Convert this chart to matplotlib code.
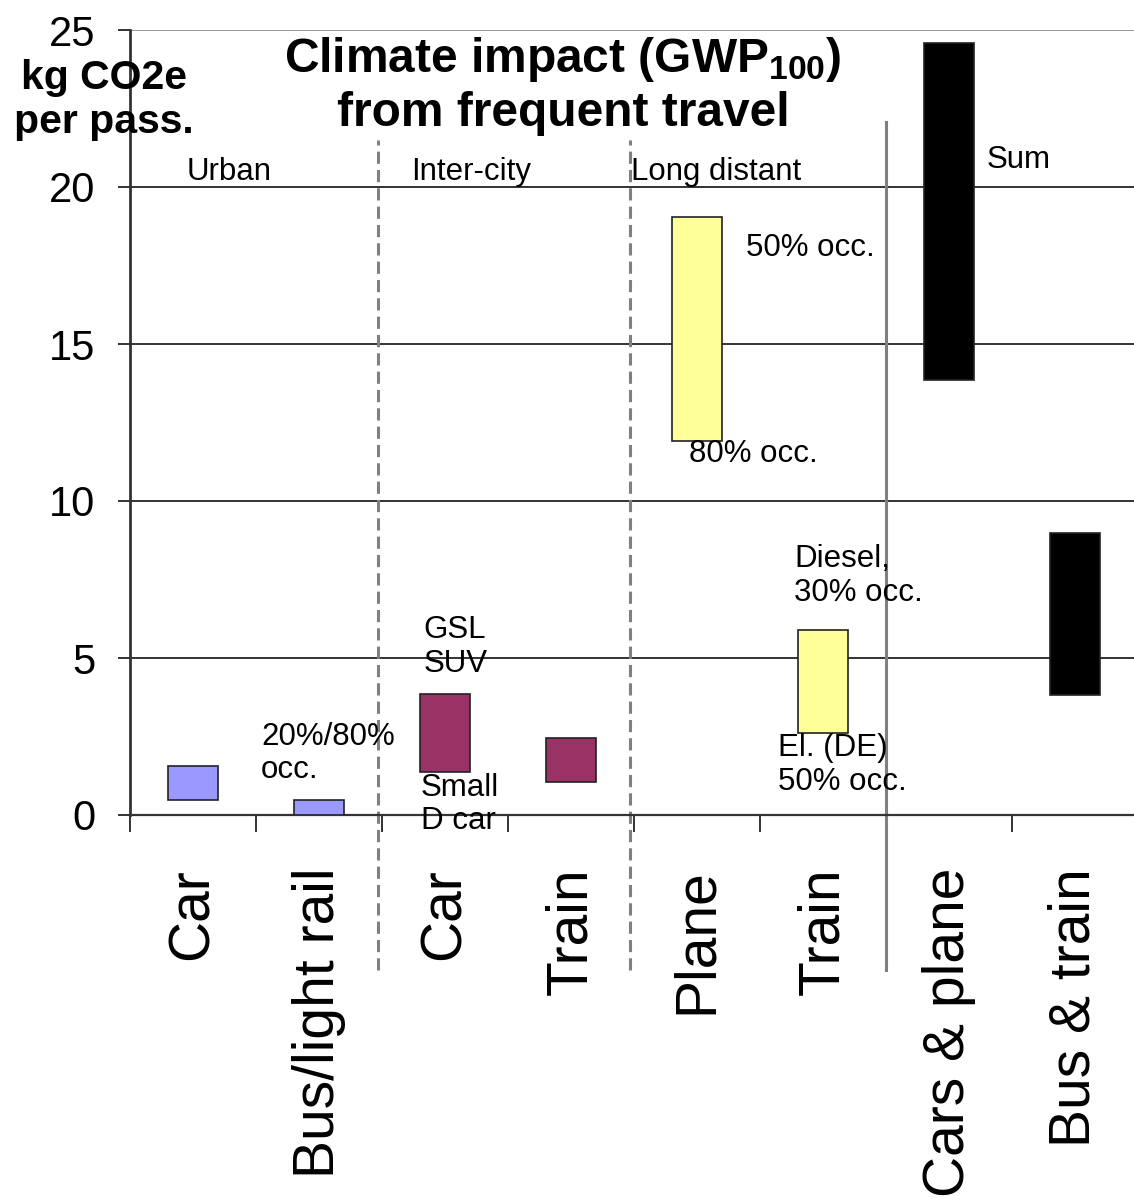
import matplotlib.pyplot as plt
import numpy as np

plt.rcParams['font.family'] = ['Liberation Sans', 'DejaVu Sans']
plt.rcParams['mathtext.fontset'] = 'custom'
plt.rcParams['mathtext.rm'] = 'Liberation Sans'
plt.rcParams['mathtext.bf'] = 'Liberation Sans:bold'

# data: low / high kg CO2e per passenger
categories = ['Car', 'Bus/light rail', 'Car', 'Train', 'Plane', 'Train',
              'Cars & plane', 'Bus & train']
low = [0.48, 0.0, 1.37, 1.05, 11.9, 2.61, 13.85, 3.82]
high = [1.56, 0.48, 3.85, 2.45, 19.04, 5.89, 24.6, 8.98]
colors = ['#9999FF', '#9999FF', '#993366', '#993366',
          '#FFFF99', '#FFFF99', '#000000', '#000000']

fig = plt.figure(figsize=(11.34, 12.01), dpi=100)
ax = fig.add_axes([130/1134, 1 - 815/1201, 1008/1134, 785/1201])

x = np.arange(len(categories))
heights = np.array(high) - np.array(low)
ax.bar(x, heights, bottom=low, width=0.4, color=colors, edgecolor='#222222',
       linewidth=1.2, zorder=3)

ax.set_xlim(-0.5, 7.5)
ax.set_ylim(0, 25)

# y axis
ax.set_yticks([0, 5, 10, 15, 20, 25])
ax.tick_params(axis='y', labelsize=30, length=9, width=1.4, pad=16, color='#333333')
for y in [5, 10, 15, 20]:
    ax.axhline(y, color='#333333', lw=1.4, zorder=1)
ax.axhline(25, color='#999999', lw=1.4, zorder=1)

# x axis: labels at centres, tick marks at boundaries
ax.set_xticks(x)
ax.set_xticklabels(categories, rotation=90, fontsize=41)
ax.tick_params(axis='x', length=0, pad=38)
ax.set_xticks(np.arange(-0.5, 7.6, 1), minor=True)
ax.tick_params(axis='x', which='minor', length=12, width=1.4, color='#333333')

for s in ['top', 'right']:
    ax.spines[s].set_visible(False)
ax.spines['left'].set_color('#333333')
ax.spines['left'].set_linewidth(2)
ax.spines['bottom'].set_color('#333333')
ax.spines['bottom'].set_linewidth(1.6)

# group separators
for xs in [1.47, 3.47]:
    ax.plot([xs, xs], [-4.94, 21.5], ls=(0, (4, 2)), color='#808080', lw=2.2,
            clip_on=False, zorder=2)
ax.plot([5.5, 5.5], [-4.94, 22.07], color='#808080', lw=2.2, clip_on=False, zorder=2)

# group names
fs = 22.5
ax.text(-0.05, 20.48, 'Urban', fontsize=fs, va='center')
ax.text(1.73, 20.48, 'Inter-city', fontsize=fs, va='center')
ax.text(3.48, 20.48, 'Long distant', fontsize=fs, va='center')
ax.text(6.30, 20.86, 'Sum', fontsize=fs, va='center')

# annotations
ax.text(4.39, 18.06, '50% occ.', fontsize=fs, va='center')
ax.text(3.94, 11.5, '80% occ.', fontsize=fs, va='center', zorder=4)
ax.text(4.77, 7.61, 'Diesel,\n30% occ.', fontsize=fs, va='center', linespacing=1.15, zorder=4)
ax.text(4.64, 1.59, 'El. (DE)\n50% occ.', fontsize=fs, va='center', linespacing=1.15, zorder=4)
ax.text(1.83, 5.35, 'GSL\nSUV', fontsize=fs, va='center', linespacing=1.15, zorder=4)
ax.text(1.81, 0.33, 'Small\nD car', fontsize=fs, va='center', linespacing=1.15, zorder=4)
ax.text(0.54, 1.96, '20%/80%\nocc.', fontsize=fs, va='center', linespacing=1.15, zorder=4)

# title and unit
fig.text(563/1134, 1 - 85/1201,
         'Climate impact (GWP$_{\\mathbf{100}}$)\nfrom frequent travel',
         fontsize=34.5, fontweight='bold', ha='center', va='center', linespacing=1.2)
fig.text(104/1134, 1 - 100/1201, 'kg CO2e\nper pass.', fontsize=29.5,
         fontweight='bold', ha='center', va='center', linespacing=1.2, zorder=10)

plt.savefig('out.png', dpi=100)
